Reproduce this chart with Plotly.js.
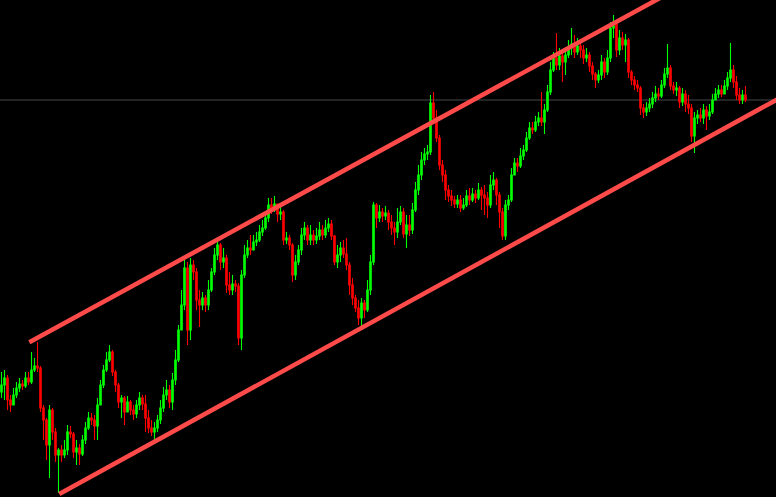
<!DOCTYPE html>
<html>
<head>
<meta charset="utf-8">
<script src="https://cdn.plot.ly/plotly-3.0.1.min.js"></script>
<style>
html,body{margin:0;padding:0;background:#000;}
#chart{width:776px;height:497px;}
</style>
</head>
<body>
<div id="chart"></div>
<script>
// Candle values (price units)
const firstOpen = 108;
const closes = [
115,122,100,95,105,112,116,114,122,118,
130,134,132,92,80,55,90,68,45,50,
45,50,68,66,48,52,46,60,72,82,
80,74,95,115,130,140,148,128,115,98,
102,88,98,90,86,95,102,96,82,72,
68,72,80,92,105,110,98,120,140,170,
195,232,170,235,228,200,195,202,195,210,
228,245,255,238,242,215,210,216,214,162,
225,245,252,250,258,260,268,272,282,295,
290,296,286,288,260,262,255,225,238,250,
265,272,260,265,260,264,270,265,272,276,
264,238,245,252,246,235,215,202,192,182,
197,190,210,238,295,282,288,284,287,278,
272,268,278,288,266,275,270,290,310,325,
340,346,348,397,382,362,335,325,310,304,
300,296,300,292,295,304,300,306,302,310,
305,302,295,315,320,305,288,264,295,300,
325,337,334,344,350,362,372,370,378,382,
378,390,408,430,442,435,444,438,445,452,
456,448,454,450,442,445,434,426,420,425,
438,428,442,472,476,450,462,455,460,428,
420,415,412,392,388,392,396,402,406,404,
415,426,432,414,410,412,398,406,396,392,
364,382,385,382,390,384,388,400,406,410,
406,414,422,430,418,405,400,405,400
];
const highs = [
128,130,125,105,112,118,122,120,128,128,
148,142,158,134,95,82,95,92,72,52,
55,60,75,74,68,60,56,65,78,88,
87,85,102,120,135,148,155,150,130,117,
105,104,104,100,95,100,108,105,105,90,
80,78,85,100,113,120,115,127,150,175,
210,240,238,242,240,232,210,208,205,220,
232,252,260,257,252,245,228,225,220,217,
230,255,260,265,265,268,275,280,288,302,
302,304,295,295,290,268,265,257,245,255,
272,278,275,275,270,272,278,275,280,282,
280,265,255,258,260,262,238,222,205,200,
202,200,220,245,298,297,295,292,294,290,
285,278,292,294,292,285,285,297,318,335,
348,352,355,405,408,390,365,340,330,315,
310,304,305,305,302,310,312,312,310,317,
313,315,308,325,328,322,308,292,300,305,
332,342,342,352,355,368,378,378,384,388,
408,396,415,438,448,467,452,450,452,460,
472,465,462,458,455,452,448,438,428,430,
445,442,450,478,485,480,470,468,466,462,
430,424,420,414,396,398,402,408,414,412,
420,432,456,435,418,418,414,412,410,405,
396,388,390,392,396,394,396,406,412,415,
415,420,428,457,435,424,412,410,414
];
const lows = [
102,100,90,88,95,102,108,110,112,115,
116,128,128,88,60,40,22,60,38,7,
38,42,45,62,42,35,35,44,56,70,
75,60,60,95,112,128,138,124,108,92,
82,75,90,85,80,82,90,90,68,67,
64,60,68,76,88,100,92,90,115,138,
170,190,155,160,220,190,173,190,188,190,
208,225,240,230,232,207,205,205,208,155,
150,222,242,245,250,254,258,264,270,278,
286,288,278,280,255,256,250,218,220,235,
245,260,255,255,255,256,260,260,262,268,
260,235,232,238,242,230,205,195,188,175,
174,182,188,205,235,272,278,278,280,270,
265,255,262,275,262,252,264,266,288,305,
320,335,340,345,378,358,330,318,300,298,
294,292,292,288,290,293,295,298,297,300,
290,285,282,292,310,295,272,260,260,290,
298,325,328,332,340,348,360,366,368,374,
374,366,388,405,428,430,430,418,425,442,
445,442,445,442,436,438,428,420,412,417,
420,422,425,438,462,443,445,450,438,422,
415,410,408,385,382,384,388,392,398,400,
402,412,422,410,406,404,392,394,388,386,
358,347,376,378,376,370,380,386,400,402,
403,408,410,418,412,400,396,396,398
];
// Channel trendlines (candle index, price)
const upperX = [9.27, 219.5];
const upperY = [157.7, 502];
const lowerX = [19.27, 258.83];
const lowerY = [6, 401];
// Horizontal level
const levelPrice = [400];

const idx = closes.map((_, i) => i);
const opens = [firstOpen].concat(closes.slice(0, -1));

const candle = {
  type: 'candlestick',
  x: idx, open: opens, high: highs, low: lows, close: closes,
  increasing: {line: {color: '#00ff00', width: 1.1}, fillcolor: '#00ff00'},
  decreasing: {line: {color: '#ff0000', width: 1.1}, fillcolor: '#ff0000'},
  whiskerwidth: 0,
  hoverinfo: 'none',
  showlegend: false
};
const upper = {
  type: 'scatter', mode: 'lines', x: upperX, y: upperY,
  line: {color: '#ff4a4a', width: 4.5}, hoverinfo: 'none', showlegend: false
};
const lower = {
  type: 'scatter', mode: 'lines', x: lowerX, y: lowerY,
  line: {color: '#ff4a4a', width: 4.5}, hoverinfo: 'none', showlegend: false
};

const layout = {
  width: 776, height: 497,
  margin: {l: 0, r: 0, t: 0, b: 0, pad: 0},
  paper_bgcolor: '#000000', plot_bgcolor: '#000000',
  showlegend: false,
  xaxis: {range: [-0.5, 258.17], visible: false, showgrid: false, zeroline: false,
          rangeslider: {visible: false}, fixedrange: true},
  yaxis: {range: [3, 500], visible: false, showgrid: false, zeroline: false, fixedrange: true},
  shapes: levelPrice.map(p => ({
    type: 'line', xref: 'paper', x0: 0, x1: 1, yref: 'y', y0: p, y1: p,
    line: {color: '#45484d', width: 1}, layer: 'below'
  }))
};

Plotly.newPlot('chart', [candle, upper, lower], layout, {staticPlot: true, displayModeBar: false});
</script>
</body>
</html>
